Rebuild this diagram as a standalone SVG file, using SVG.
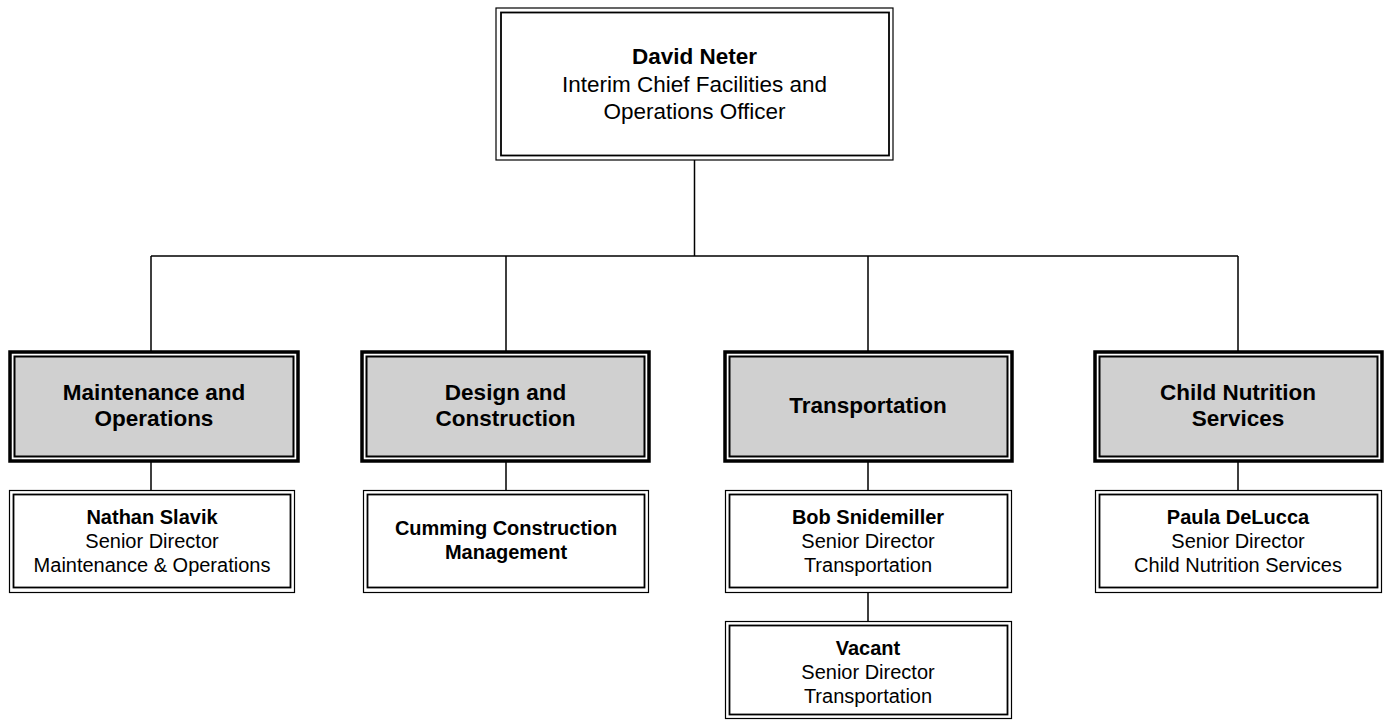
<svg xmlns="http://www.w3.org/2000/svg" width="1384" height="721" viewBox="0 0 1384 721">
<style>
.o{fill:#fff;stroke:#000;stroke-width:1.2}
.i{fill:#fff;stroke:#000;stroke-width:1.8}
.go{fill:#fff;stroke:#000;stroke-width:3.5}
.gi{fill:#d0d0d0;stroke:#000;stroke-width:2}
text{font-family:"Liberation Sans",Arial,sans-serif;fill:#000;text-anchor:middle}
.t{font-size:22.5px}
.s{font-size:20px}
.b{font-weight:bold}
.c{fill:none;stroke:#000;stroke-width:1.5}
</style>
<g id="connectors">
<path class="c" d="M694.5 160V256M151 256H1238M151 256V351M506 256V351M868 256V351M1238 256V351M151 461V490M506 461V490M868 461V490M1238 461V490M868 593V621"/>
</g>
<g id="chief">
<rect class="o" x="496" y="8" width="397" height="152"/>
<rect class="i" x="501" y="12.5" width="388" height="143"/>
<text class="t" x="694.5" y="64"><tspan class="b">David Neter</tspan><tspan x="694.5" y="92">Interim Chief Facilities and</tspan><tspan x="694.5" y="118.5">Operations Officer</tspan></text>
</g>
<g id="maint">
<rect class="go" x="10" y="352" width="288" height="109"/>
<rect class="gi" x="14.5" y="356.5" width="279" height="100"/>
<text class="t b" x="154" y="400">Maintenance and<tspan x="154" y="425.5">Operations</tspan></text>
</g>
<g id="design">
<rect class="go" x="362" y="352" width="287" height="109"/>
<rect class="gi" x="366.5" y="356.5" width="278" height="100"/>
<text class="t b" x="505.5" y="400">Design and<tspan x="505.5" y="425.5">Construction</tspan></text>
</g>
<g id="transport">
<rect class="go" x="725" y="352" width="287" height="109"/>
<rect class="gi" x="729.5" y="356.5" width="278" height="100"/>
<text class="t b" x="868" y="413">Transportation</text>
</g>
<g id="nutrition">
<rect class="go" x="1095" y="352" width="287" height="109"/>
<rect class="gi" x="1099.5" y="356.5" width="278" height="100"/>
<text class="t b" x="1238" y="400">Child Nutrition<tspan x="1238" y="425.5">Services</tspan></text>
</g>
<g id="slavik">
<rect class="o" x="9.5" y="490.5" width="285" height="102"/>
<rect class="i" x="13.5" y="494.5" width="277" height="93"/>
<text class="s" x="152" y="524"><tspan class="b">Nathan Slavik</tspan><tspan x="152" y="548">Senior Director</tspan><tspan x="152" y="572">Maintenance &amp; Operations</tspan></text>
</g>
<g id="cumming">
<rect class="o" x="363.5" y="490.5" width="285" height="102"/>
<rect class="i" x="367.5" y="494.5" width="277" height="93"/>
<text class="s b" x="506" y="535">Cumming Construction<tspan x="506" y="559">Management</tspan></text>
</g>
<g id="snidemiller">
<rect class="o" x="725.5" y="490.5" width="286" height="102"/>
<rect class="i" x="729.5" y="494.5" width="278" height="93"/>
<text class="s" x="868" y="524"><tspan class="b">Bob Snidemiller</tspan><tspan x="868" y="548">Senior Director</tspan><tspan x="868" y="572">Transportation</tspan></text>
</g>
<g id="vacant">
<rect class="o" x="725.5" y="621.5" width="286" height="97"/>
<rect class="i" x="729.5" y="625.5" width="278" height="89"/>
<text class="s" x="868" y="655"><tspan class="b">Vacant</tspan><tspan x="868" y="679">Senior Director</tspan><tspan x="868" y="703">Transportation</tspan></text>
</g>
<g id="delucca">
<rect class="o" x="1095.5" y="490.5" width="286" height="102"/>
<rect class="i" x="1099.5" y="494.5" width="278" height="93"/>
<text class="s" x="1238" y="524"><tspan class="b">Paula DeLucca</tspan><tspan x="1238" y="548">Senior Director</tspan><tspan x="1238" y="572">Child Nutrition Services</tspan></text>
</g>
</svg>
